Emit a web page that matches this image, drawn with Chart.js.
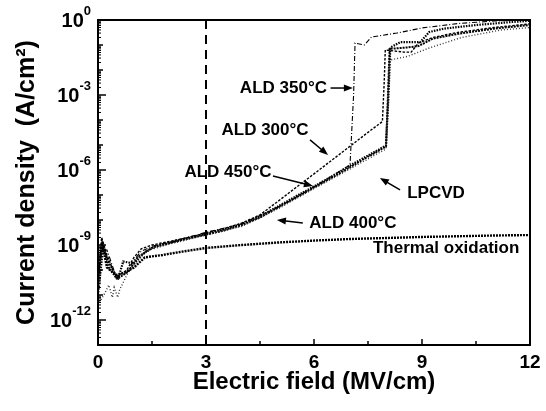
<!DOCTYPE html>
<html>
<head>
<meta charset="utf-8">
<script src="https://cdn.jsdelivr.net/npm/chart.js@4/dist/chart.umd.min.js"></script>
<style>
  body { margin: 0; background: #fff; }
</style>
</head>
<body>
<canvas id="jv-chart" width="546" height="411"></canvas>
<script>
// Electric field (MV/cm) and current density (A/cm2)
const fieldThermal = [0, 0.05, 0.12, 0.25, 0.5, 0.75, 1.0, 1.3, 1.8, 2.4, 3, 4, 5, 6, 7, 8, 9, 10, 11, 12];
const jThermal = [3.2e-11, 2e-10, 1e-9, 1.26e-10, 6.3e-11, 8e-11, 1.26e-10, 3.2e-10, 4e-10, 5.6e-10, 7.6e-10, 1e-9, 1.26e-9, 1.5e-9, 1.74e-9, 1.9e-9, 2.1e-9, 2.24e-9, 2.4e-9, 2.5e-9];

const field300 = [0, 0.1, 0.25, 0.5, 0.8, 1.0, 1.2, 1.5, 2, 2.5, 3, 3.5, 4, 4.5, 5, 5.5, 6, 6.5, 7, 7.5, 7.9, 7.95, 7.98, 8.5, 8.7, 8.9, 9.3, 10, 11, 12];
const j300 = [2.5e-11, 2e-9, 4e-10, 5e-11, 1e-10, 3.2e-10, 7e-10, 1e-9, 1.4e-9, 2e-9, 3e-9, 4.5e-9, 7.6e-9, 1.6e-8, 5.6e-8, 2e-7, 7e-7, 2.5e-6, 8.9e-6, 3.2e-5, 8.7e-5, 3.2e-3, 6.3e-2, 5.2e-2, 5.2e-2, 0.12, 0.2, 0.32, 0.5, 0.7];

const field350 = [0, 0.1, 0.25, 0.5, 0.8, 1.0, 1.2, 1.5, 2, 3, 4, 5, 6, 7.0, 7.1, 7.14, 7.4, 7.6, 8.3, 9, 10, 11, 12];
const j350 = [5e-11, 6.3e-10, 6.3e-10, 5.6e-11, 7.9e-11, 2.5e-10, 5.6e-10, 8.9e-10, 1.3e-9, 3.2e-9, 7e-9, 3.2e-8, 2.1e-7, 1.6e-6, 1e-3, 0.12, 0.1, 0.21, 0.3, 0.48, 0.72, 0.91, 1.0];

const field400 = [0, 0.2, 0.3, 0.4, 0.45, 0.55, 0.6, 0.8, 1.0, 1.3, 2, 3, 4, 5, 6, 7, 8, 8.06, 8.1, 8.6, 9.2, 10.1, 11.2, 12];
const j400 = [4e-12, 1.26e-11, 2.5e-11, 8e-12, 2e-11, 8e-12, 1.6e-11, 6.3e-11, 2e-10, 5.6e-10, 1.1e-9, 2.5e-9, 5.6e-9, 2.8e-8, 1.8e-7, 1.1e-6, 7e-6, 1e-3, 2.5e-2, 3.5e-2, 7.6e-2, 0.2, 0.4, 0.5];

const field450 = [0, 0.1, 0.3, 0.55, 0.85, 1.1, 1.5, 2, 2.5, 3, 3.5, 4, 4.5, 5, 5.5, 6, 6.5, 7, 7.5, 8.0, 8.05, 8.1, 8.6, 8.9, 9.3, 10, 11, 12];
const j450 = [7.9e-11, 1e-9, 2e-10, 4.5e-11, 8.9e-11, 3.2e-10, 7.9e-10, 1.2e-9, 1.8e-9, 2.6e-9, 3.8e-9, 6.3e-9, 1.26e-8, 3.2e-8, 7.9e-8, 2e-7, 5e-7, 1.3e-6, 3.4e-6, 8.7e-6, 6.3e-4, 7e-2, 8e-2, 9e-2, 0.18, 0.28, 0.45, 0.63];

const fieldLpcvd = [0, 0.15, 0.3, 0.55, 0.7, 1.0, 1.3, 1.6, 2, 2.5, 3, 3.5, 4, 4.5, 5, 5.5, 6, 6.5, 7, 7.5, 8.0, 8.07, 8.12, 8.4, 8.95, 9.2, 9.6, 10.5, 11.5, 12];
const jLpcvd = [1e-11, 1e-9, 1.26e-10, 4e-11, 2.2e-10, 1.8e-10, 5e-10, 8.9e-10, 1.26e-9, 1.9e-9, 2.8e-9, 4.2e-9, 7e-9, 1.4e-8, 3.5e-8, 8.9e-8, 2.2e-7, 5.6e-7, 1.5e-6, 3.8e-6, 9.5e-6, 1e-3, 7.9e-2, 0.13, 0.13, 0.33, 0.45, 0.63, 0.83, 0.93];

// dashed marker at 3 MV/cm
const fieldMarker = [3, 3];
const jMarker = [1, 1e-13];

const xTickValues = [0, 3, 6, 9, 12];
const yLabelExponents = [0, -3, -6, -9, -12];

const FONT = '"Liberation Sans", Arial, Helvetica, sans-serif';

const notes = [
  { text: 'ALD 350°C', x: 6.36, y: 1.9e-3, align: 'right', arrow: [6.46, 1.9e-3, 7.08, 1.9e-3] },
  { text: 'ALD 300°C', x: 4.64, y: 4e-5, align: 'center', arrow: [5.89, 1.6e-5, 6.39, 4e-6] },
  { text: 'ALD 450°C', x: 3.61, y: 8.3e-7, align: 'center', arrow: [4.86, 5.8e-7, 5.97, 2.3e-7] },
  { text: 'LPCVD', x: 9.39, y: 1.2e-7, align: 'center', arrow: [8.39, 1.6e-7, 7.83, 4.8e-7] },
  { text: 'ALD 400°C', x: 7.08, y: 7.6e-9, align: 'center', arrow: [5.69, 7.6e-9, 4.97, 1e-8] },
  { text: 'Thermal oxidation', x: 9.67, y: 7.6e-10, align: 'center' }
];

function pairs(xs, ys) {
  return xs.map((x, i) => ({ x: x, y: ys[i] }));
}

function curve(label, xs, ys, width, dash, color) {
  return {
    label: label,
    data: pairs(xs, ys),
    showLine: true,
    borderColor: color || '#000',
    backgroundColor: color || '#000',
    borderWidth: width,
    borderDash: dash,
    pointRadius: 0,
    tension: 0
  };
}

function line(ctx, x1, y1, x2, y2) {
  ctx.beginPath();
  ctx.moveTo(x1, y1);
  ctx.lineTo(x2, y2);
  ctx.stroke();
}

const decorations = {
  id: 'decorations',
  afterDatasetsDraw(chart) {
    const { ctx, chartArea: a, scales: { x, y } } = chart;
    ctx.save();
    ctx.strokeStyle = '#000';
    ctx.fillStyle = '#000';

    // frame
    ctx.lineWidth = 2;
    ctx.strokeRect(a.left, a.top, a.right - a.left, a.bottom - a.top);

    // inward ticks on the log axis
    ctx.lineWidth = 1.5;
    for (let e = -13; e <= 0; e++) {
      const py = y.getPixelForValue(Math.pow(10, e));
      line(ctx, a.left, py, a.left + (yLabelExponents.includes(e) ? 8 : 5), py);
      if (e < 0) {
        ctx.lineWidth = 1;
        for (let m = 2; m <= 9; m++) {
          const pm = y.getPixelForValue(m * Math.pow(10, e));
          line(ctx, a.left, pm, a.left + 3, pm);
        }
        ctx.lineWidth = 1.5;
      }
    }

    // inward ticks on the field axis
    for (let v = 0; v <= 12; v += 1.5) {
      const px = x.getPixelForValue(v);
      line(ctx, px, a.bottom, px, a.bottom - (v % 3 === 0 ? 6 : 4));
    }

    // 10^n labels
    for (const e of yLabelExponents) {
      const py = y.getPixelForValue(Math.pow(10, e));
      const exp = String(e);
      ctx.font = 'bold 13px ' + FONT;
      const ew = ctx.measureText(exp).width;
      ctx.font = 'bold 20px ' + FONT;
      const bw = ctx.measureText('10').width;
      const right = 91;
      ctx.textAlign = 'left';
      ctx.textBaseline = 'middle';
      ctx.fillText('10', right - ew - bw, py + 1);
      ctx.font = 'bold 13px ' + FONT;
      ctx.textBaseline = 'alphabetic';
      ctx.fillText(exp, right - ew, py - 5);
    }

    // annotations
    ctx.font = 'bold 17px ' + FONT;
    ctx.textBaseline = 'middle';
    for (const n of notes) {
      ctx.textAlign = n.align;
      ctx.fillText(n.text, x.getPixelForValue(n.x), y.getPixelForValue(n.y));
      if (n.arrow) {
        const x1 = x.getPixelForValue(n.arrow[0]);
        const y1 = y.getPixelForValue(n.arrow[1]);
        const x2 = x.getPixelForValue(n.arrow[2]);
        const y2 = y.getPixelForValue(n.arrow[3]);
        const ang = Math.atan2(y2 - y1, x2 - x1);
        ctx.lineWidth = 1.5;
        line(ctx, x1, y1, x2 - 7 * Math.cos(ang), y2 - 7 * Math.sin(ang));
        ctx.beginPath();
        ctx.moveTo(x2, y2);
        ctx.lineTo(x2 - 9 * Math.cos(ang) + 3.5 * Math.sin(ang), y2 - 9 * Math.sin(ang) - 3.5 * Math.cos(ang));
        ctx.lineTo(x2 - 9 * Math.cos(ang) - 3.5 * Math.sin(ang), y2 - 9 * Math.sin(ang) + 3.5 * Math.cos(ang));
        ctx.closePath();
        ctx.fill();
      }
    }
    ctx.restore();
  }
};

const ctx = document.getElementById('jv-chart');
const chart = new Chart(ctx, {
  type: 'scatter',
  data: {
    datasets: [
      curve('Thermal oxidation', fieldThermal, jThermal, 2.4, [2, 1]),
      curve('ALD 300°C', field300, j300, 1.4, [2.5, 1.5]),
      curve('ALD 350°C', field350, j350, 1.1, [5, 2, 1, 2]),
      curve('ALD 400°C', field400, j400, 1.4, [1, 2], '#333'),
      curve('ALD 450°C', field450, j450, 2, [2, 1]),
      curve('LPCVD', fieldLpcvd, jLpcvd, 2.2, [1.5, 1.2]),
      curve('3 MV/cm', fieldMarker, jMarker, 2, [9, 6])
    ]
  },
  options: {
    responsive: false,
    animation: false,
    layout: { padding: { top: 20, right: 16, left: 0, bottom: 0 } },
    plugins: {
      legend: { display: false },
      tooltip: { enabled: false }
    },
    scales: {
      x: {
        type: 'linear',
        min: 0,
        max: 12,
        afterBuildTicks: (s) => { s.ticks = xTickValues.map(v => ({ value: v })); },
        afterFit: (s) => { s.height = 66; s.paddingLeft = 0; s.paddingRight = 0; },
        grid: { display: false, drawTicks: false },
        border: { display: false },
        ticks: {
          color: '#000',
          padding: 6,
          maxRotation: 0,
          font: { family: FONT, size: 19, weight: 'bold' }
        },
        title: {
          display: true,
          text: 'Electric field (MV/cm)',
          color: '#000',
          padding: { bottom: 14 },
          font: { family: FONT, size: 24, weight: 'bold' }
        }
      },
      y: {
        type: 'logarithmic',
        min: 1e-13,
        max: 1,
        afterFit: (s) => { s.width = 98; },
        grid: { display: false, drawTicks: false },
        border: { display: false },
        ticks: { display: false },
        title: {
          display: true,
          text: 'Current density  (A/cm²)',
          color: '#000',
          padding: { top: 12 },
          font: { family: FONT, size: 25, weight: 'bold' }
        }
      }
    }
  },
  plugins: [decorations]
});
</script>
</body>
</html>
